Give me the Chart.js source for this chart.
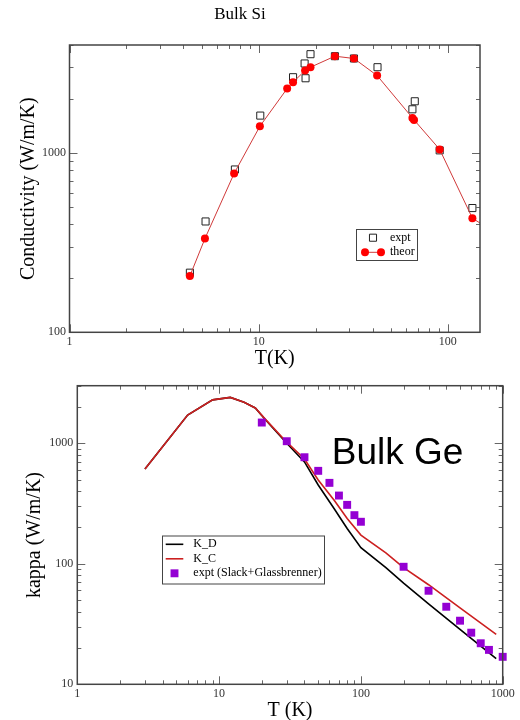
<!DOCTYPE html>
<html>
<head>
<meta charset="utf-8">
<script src="https://cdn.jsdelivr.net/npm/chart.js"></script>
<style>
  body { margin: 0; background: #fff; overflow: hidden; }
  canvas { position: absolute; left: 0; }
  #siChart { top: 0; }
  #geChart { top: 368px; }
</style>
</head>
<body>
<canvas id="siChart" width="520" height="372"></canvas>
<canvas id="geChart" width="520" height="356"></canvas>
<script>
// Bulk Si: measured vs computed conductivity
const siExptT = [4.33, 5.24, 7.49, 10.2, 15.2, 17.5, 17.7, 18.8, 25.3, 31.9, 42.5, 65.0, 66.9, 90.6, 134.9];
const siExptK = [215, 415, 809, 1616, 2645, 3155, 2610, 3555, 3465, 3364, 3008, 1752, 1942, 1034, 493];
const siTheorT = [4.33, 5.20, 7.42, 10.15, 14.15, 15.2, 17.6, 18.8, 25.3, 31.9, 42.3, 65.0, 66.3, 90.6, 134.9, 170];
const siTheorK = [206, 333, 769, 1408, 2287, 2479, 2883, 3008, 3465, 3364, 2702, 1569, 1529, 1047, 433, 370];
const siXTicks = [1, 10, 100];
const siXLabels = ['1', '10', '100'];
const siYTicks = [100, 1000];
const siYLabels = ['100', '1000'];

// Bulk Ge: K_D / K_C curves and Slack+Glassbrenner data
const geT = [3, 6, 9, 12, 15, 18, 21, 30, 40, 50, 65, 80, 100, 150, 200, 300, 500, 900];
const geKD = [610, 1710, 2290, 2400, 2190, 1960, 1590, 1000, 700, 450, 285, 196, 136, 93, 69, 46.5, 28.5, 16.3];
const geKC = [610, 1710, 2290, 2400, 2190, 1960, 1600, 1020, 740, 495, 335, 237, 173, 123, 93, 67, 43, 26];
const geExptT = [20, 30, 40, 50, 60, 70, 80, 90, 100, 200, 300, 400, 500, 600, 700, 800, 1000];
const geExptK = [1484, 1039, 765, 590, 469, 368, 308, 253, 223, 94.4, 59.7, 44.0, 33.7, 26.8, 21.9, 19.3, 16.9];
const geXTicks = [1, 10, 100, 1000];
const geXLabels = ['1', '10', '100', '1000'];
const geYTicks = [10, 100, 1000];
const geYLabels = ['10', '100', '1000'];

const SERIF = "'Liberation Serif', 'Times New Roman', serif";

function pts(xs, ys) {
    return xs.map((x, i) => ({ x: x, y: ys[i] }));
}

// every 1..9 x 10^n step inside [min, max]
function logSteps(min, max) {
    const out = [];
    for (let d = Math.floor(Math.log10(min)); d <= Math.ceil(Math.log10(max)); d++) {
        for (let k = 1; k <= 9; k++) {
            const v = k * Math.pow(10, d);
            if (v >= min * 0.999 && v <= max * 1.001) out.push({ value: v, major: k === 1 });
        }
    }
    return out;
}

function logAxis(min, max, vals, labels, title, titlePad, tickPad, fit) {
    return {
        type: 'logarithmic',
        min: min,
        max: max,
        bounds: 'data',
        grid: { display: false, drawTicks: false },
        border: { display: false },
        afterBuildTicks: s => { s.ticks = vals.map(v => ({ value: v })); },
        afterFit: s => { if (s.isHorizontal()) s.height = fit; else s.width = fit; },
        ticks: {
            autoSkip: false,
            maxRotation: 0,
            padding: tickPad,
            color: '#333',
            font: { family: SERIF, size: 12 },
            callback: v => labels[vals.indexOf(v)]
        },
        title: {
            display: true,
            text: title,
            color: '#000',
            font: { family: SERIF, size: 20 },
            padding: titlePad
        }
    };
}

// plot frame with inward log ticks on all four sides
const logFrame = {
    id: 'logFrame',
    afterDatasetsDraw(chart) {
        const { ctx, chartArea: a, scales: { x, y } } = chart;
        ctx.save();
        ctx.strokeStyle = '#666';
        ctx.lineWidth = 1;
        ctx.beginPath();
        logSteps(x.min, x.max).forEach(t => {
            const px = Math.round(x.getPixelForValue(t.value)) + 0.5;
            const len = t.major ? 8 : 4;
            ctx.moveTo(px, a.bottom); ctx.lineTo(px, a.bottom - len);
            ctx.moveTo(px, a.top); ctx.lineTo(px, a.top + len);
        });
        logSteps(y.min, y.max).forEach(t => {
            const py = Math.round(y.getPixelForValue(t.value)) + 0.5;
            const len = t.major ? 8 : 4;
            ctx.moveTo(a.left, py); ctx.lineTo(a.left + len, py);
            ctx.moveTo(a.right, py); ctx.lineTo(a.right - len, py);
        });
        ctx.stroke();
        ctx.strokeStyle = '#444';
        ctx.lineWidth = 1.5;
        ctx.strokeRect(a.left, a.top, a.right - a.left, a.bottom - a.top);
        ctx.restore();
    }
};

function drawMarker(ctx, ds, cx, cy) {
    const r = ds.pointRadius;
    ctx.fillStyle = ds.pointBackgroundColor;
    ctx.strokeStyle = ds.pointBorderColor;
    ctx.lineWidth = ds.pointBorderWidth;
    ctx.beginPath();
    if (ds.pointStyle === 'rect') {
        const h = r * Math.SQRT1_2;
        ctx.rect(cx - h, cy - h, 2 * h, 2 * h);
    } else {
        ctx.arc(cx, cy, r, 0, Math.PI * 2);
    }
    ctx.fill();
    if (ds.pointBorderWidth > 0) ctx.stroke();
}

// boxed legend placed inside the plot
const boxLegend = {
    id: 'boxLegend',
    afterDraw(chart, args, o) {
        if (!o.box) return;
        const { ctx } = chart;
        const [bx, by, bw, bh] = o.box;
        ctx.save();
        ctx.fillStyle = '#fff';
        ctx.fillRect(bx, by, bw, bh);
        ctx.strokeStyle = '#444';
        ctx.lineWidth = 1;
        ctx.strokeRect(bx + 0.5, by + 0.5, bw, bh);
        o.items.forEach((idx, i) => {
            const ds = chart.data.datasets[idx];
            const cy = by + o.firstRow + i * o.rowGap;
            if (ds.showLine !== false) {
                ctx.strokeStyle = ds.borderColor;
                ctx.lineWidth = ds.borderWidth;
                ctx.beginPath();
                ctx.moveTo(o.line[0], cy);
                ctx.lineTo(o.line[1], cy);
                ctx.stroke();
                if (ds.pointRadius > 0) {
                    drawMarker(ctx, ds, o.line[0], cy);
                    drawMarker(ctx, ds, o.line[1], cy);
                }
            } else {
                drawMarker(ctx, ds, (o.line[0] + o.line[1]) / 2, cy);
            }
            ctx.fillStyle = '#000';
            ctx.font = '12px ' + SERIF;
            ctx.textBaseline = 'middle';
            ctx.fillText(ds.label, o.textX, cy);
        });
        ctx.restore();
    }
};

const bulkGeLabel = {
    id: 'bulkGeLabel',
    afterDraw(chart, args, o) {
        if (!o.text) return;
        const { ctx } = chart;
        ctx.save();
        ctx.fillStyle = '#000';
        ctx.font = "37px 'Liberation Sans', Arial, sans-serif";
        ctx.textBaseline = 'alphabetic';
        ctx.fillText(o.text, o.x, o.y);
        ctx.restore();
    }
};

new Chart(document.getElementById('siChart'), {
    type: 'scatter',
    data: {
        datasets: [
            {
                label: 'theor',
                data: pts(siTheorT, siTheorK),
                showLine: true,
                tension: 0,
                borderColor: '#d03a3a',
                borderWidth: 1,
                pointStyle: 'circle',
                pointRadius: 4,
                pointBackgroundColor: '#ff0000',
                pointBorderColor: '#ff0000',
                pointBorderWidth: 0
            },
            {
                label: 'expt',
                data: pts(siExptT, siExptK),
                showLine: false,
                pointStyle: 'rect',
                pointRadius: 5,
                pointBackgroundColor: 'rgba(0,0,0,0)',
                pointBorderColor: '#222',
                pointBorderWidth: 1
            }
        ]
    },
    options: {
        responsive: false,
        animation: false,
        devicePixelRatio: 1,
        layout: { padding: { left: 0, right: 40, top: 0, bottom: 0 } },
        scales: {
            x: logAxis(1, 148, siXTicks, siXLabels, 'T(K)', { top: 0, bottom: 1.5 }, 2, 39.7),
            y: logAxis(100, 4000, siYTicks, siYLabels, 'Conductivity (W/m/K)', { top: 17, bottom: 0 }, 3.5, 69.5)
        },
        plugins: {
            legend: { display: false },
            tooltip: { enabled: false },
            title: {
                display: true,
                text: 'Bulk Si',
                color: '#000',
                font: { family: SERIF, size: 17, weight: 'normal' },
                padding: { top: 4.3, bottom: 20.3 }
            },
            boxLegend: {
                box: [356, 229, 61, 31],
                items: [1, 0],
                firstRow: 8.7,
                rowGap: 14.6,
                line: [365, 381],
                textX: 390
            }
        }
    },
    plugins: [logFrame, boxLegend]
});

new Chart(document.getElementById('geChart'), {
    type: 'scatter',
    data: {
        datasets: [
            {
                label: 'expt (Slack+Glassbrenner)',
                data: pts(geExptT, geExptK),
                showLine: false,
                clip: false,
                pointStyle: 'rect',
                pointRadius: 5.6,
                pointBackgroundColor: '#9400d3',
                pointBorderColor: '#9400d3',
                pointBorderWidth: 0
            },
            {
                label: 'K_C',
                data: pts(geT, geKC),
                showLine: true,
                tension: 0,
                borderColor: '#cc2020',
                borderWidth: 1.6,
                pointRadius: 0
            },
            {
                label: 'K_D',
                data: pts(geT, geKD),
                showLine: true,
                tension: 0,
                borderColor: '#000000',
                borderWidth: 1.6,
                pointRadius: 0
            }
        ]
    },
    options: {
        responsive: false,
        animation: false,
        devicePixelRatio: 1,
        layout: { padding: { left: 0, right: 17.3, top: 17.7, bottom: 0 } },
        scales: {
            x: logAxis(1, 1000, geXTicks, geXLabels, 'T (K)', { top: 0, bottom: 1 }, 2, 39.7),
            y: logAxis(10, 3000, geYTicks, geYLabels, 'kappa (W/m/K)', { top: 22.7, bottom: 0 }, 4, 77.3)
        },
        plugins: {
            legend: { display: false },
            tooltip: { enabled: false },
            boxLegend: {
                box: [162, 167.5, 162, 48],
                items: [2, 1, 0],
                firstRow: 8.8,
                rowGap: 14.5,
                line: [165.7, 183.3],
                textX: 193.3
            },
            bulkGeLabel: { text: 'Bulk Ge', x: 331.7, y: 96 }
        }
    },
    plugins: [logFrame, boxLegend, bulkGeLabel]
});
</script>
</body>
</html>
